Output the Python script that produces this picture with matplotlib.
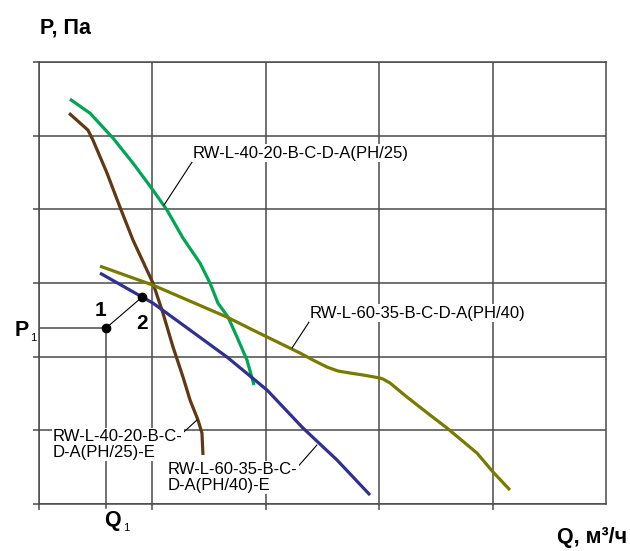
import numpy as np
import matplotlib.pyplot as plt

plt.rcParams['font.family'] = ['Liberation Sans', 'DejaVu Sans']

# curves (Q and P in grid units)
green_q = [0.273, 0.450, 0.653, 0.829, 1.005, 1.129, 1.270, 1.420, 1.508, 1.578, 1.667, 1.746, 1.834, 1.896]
green_p = [5.495, 5.305, 4.966, 4.627, 4.261, 3.989, 3.609, 3.270, 2.999, 2.727, 2.537, 2.266, 1.954, 1.615]

brown_q = [0.265, 0.432, 0.476, 0.600, 0.714, 0.829, 1.005, 1.093, 1.182, 1.270, 1.332, 1.402, 1.437, 1.446]
brown_p = [5.305, 5.075, 4.939, 4.491, 4.030, 3.582, 2.999, 2.592, 2.130, 1.723, 1.411, 1.140, 0.963, 0.665]

blue_q = [0.538, 1.005, 1.332, 1.658, 2.011, 2.328, 2.628, 2.919]
blue_p = [3.134, 2.727, 2.361, 1.995, 1.547, 1.031, 0.597, 0.122]

olive_q = [0.538, 1.005, 1.658, 1.887, 2.302, 2.416, 2.540, 2.637, 2.743, 2.857, 3.007,
           3.034, 3.095, 3.245, 3.448, 3.598, 3.862, 4.004, 4.153]
olive_p = [3.229, 2.971, 2.537, 2.361, 2.049, 1.954, 1.859, 1.805, 1.778, 1.751, 1.710,
           1.696, 1.643, 1.452, 1.208, 1.031, 0.692, 0.434, 0.190]

pt1 = (0.591, 2.388)
pt2 = (0.906, 2.805)

labels = ['RW-L-40-20-B-C-D-A(PH/25)', 'RW-L-60-35-B-C-D-A(PH/40)',
          'RW-L-40-20-B-C-\nD-A(PH/25)-E', 'RW-L-60-35-B-C-\nD-A(PH/40)-E']

grid_c = '#4a4a4a'

fig = plt.figure(figsize=(6.3, 5.51), dpi=100)
ax = fig.add_axes([39 / 630, 47 / 551, 567 / 630, 442 / 551])
ax.set_xlim(0, 5)
ax.set_ylim(0, 6)

for s in ax.spines.values():
    s.set_color(grid_c)
    s.set_linewidth(1.1)
ax.set_xticks(range(0, 5))
ax.set_yticks(range(0, 7))
ax.tick_params(direction='out', length=4.5, width=1.1, color=grid_c,
               labelbottom=False, labelleft=False)
ax.grid(True, color=grid_c, linewidth=1.1)
ax.set_axisbelow(True)

ax.plot(green_q, green_p, color='#00a651', lw=2.3, solid_capstyle='butt', zorder=3)
ax.plot(brown_q, brown_p, color='#603913', lw=2.3, solid_capstyle='butt', zorder=3)
ax.plot(blue_q, blue_p, color='#2e3192', lw=2.3, solid_capstyle='butt', zorder=3)
ax.plot(olive_q, olive_p, color='#7a7a00', lw=2.3, solid_capstyle='butt', zorder=3)

# operating points
ax.plot([0, pt1[0]], [pt1[1], pt1[1]], color=grid_c, lw=1.1, zorder=2)
ax.plot([pt1[0], pt1[0]], [-0.06, pt1[1]], color=grid_c, lw=1.1, zorder=2, clip_on=False)
ax.plot([pt1[0], pt2[0]], [pt1[1], pt2[1]], color='black', lw=0.8, zorder=4)
ax.plot([pt1[0], pt2[0]], [pt1[1], pt2[1]], 'o', color='black', ms=6, zorder=5)
ax.text(0.538, 2.62, '1', fontsize=15, fontweight='bold', ha='center', va='center')
ax.text(0.908, 2.45, '2', fontsize=15, fontweight='bold', ha='center', va='center')

box = dict(facecolor='white', edgecolor='none', pad=1)
ax.annotate(labels[0], xy=(1.102, 4.057), xytext=(1.358, 4.763), fontsize=12,
            ha='left', va='center', bbox=box,
            arrowprops=dict(arrowstyle='-', color='black', lw=0.8, shrinkA=0, shrinkB=0,
                            relpos=(0, 0)), zorder=6)
ax.annotate(labels[1], xy=(2.231, 2.117), xytext=(2.390, 2.592), fontsize=12,
            ha='left', va='center', bbox=box,
            arrowprops=dict(arrowstyle='-', color='black', lw=0.8, shrinkA=0, shrinkB=0,
                            relpos=(0, 0)), zorder=6)
ax.annotate(labels[3], xy=(2.451, 0.801), xytext=(1.138, 0.36), fontsize=12,
            ha='left', va='center', linespacing=1.05, bbox=box,
            arrowprops=dict(arrowstyle='-', color='black', lw=0.8, shrinkA=0, shrinkB=0,
                            relpos=(0.98, 0.75)), zorder=6)
ax.annotate(labels[2], xy=(1.393, 1.140), xytext=(0.123, 0.807), fontsize=12,
            ha='left', va='center', linespacing=1.05, bbox=box,
            arrowprops=dict(arrowstyle='-', color='black', lw=0.8, shrinkA=0, shrinkB=0,
                            relpos=(0.98, 0.8)), zorder=7)

# axis captions
ax.text(0.009, 6.46, 'P, Па', fontsize=15.5, fontweight='bold', ha='left', va='center',
        clip_on=False)
ax.text(5.185, -0.45, 'Q, м³/ч', fontsize=15.5, fontweight='bold', ha='right', va='center',
        clip_on=False)
ax.text(-0.15, 2.35, 'P', fontsize=15.5, fontweight='bold', ha='center', va='center',
        clip_on=False)
ax.text(-0.05, 2.25, '1', fontsize=8, ha='center', va='center', clip_on=False)
ax.text(0.644, -0.23, 'Q', fontsize=15.5, fontweight='bold', ha='center', va='center',
        clip_on=False)
ax.text(0.77, -0.33, '1', fontsize=8, ha='center', va='center', clip_on=False)

fig.savefig('out.png', dpi=100)
